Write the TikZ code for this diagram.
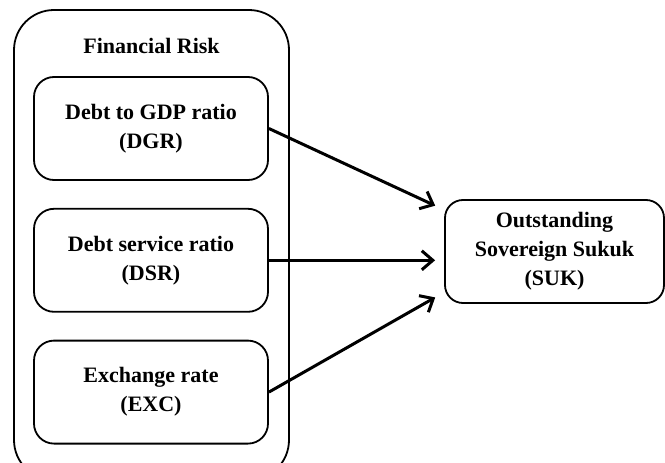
\documentclass[tikz,border=0pt]{standalone}
\usepackage{fontspec}
\setmainfont{Liberation Serif}
\usetikzlibrary{positioning,arrows.meta}

\tikzset{
  factor/.style={draw,line width=1.8pt,rounded corners=20pt,minimum width=234pt,minimum height=103pt,
    align=center,font=\bfseries\fontsize{22}{29}\selectfont},
  outerbox/.style={draw,line width=1.8pt,rounded corners=40pt,minimum width=275pt,minimum height=470pt},
  link/.style={line width=3pt,-{Straight Barb[length=11pt,width=19pt]},shorten >=1pt}
}

\begin{document}
\begin{tikzpicture}[x=1pt,y=-1pt,node distance=27pt]
\path[use as bounding box,clip] (0,0) rectangle (665,463);
\node[outerbox] (risk) at (151.5,245) {};
\node[font=\bfseries\fontsize{22}{26}\selectfont,below=26pt of risk.north] (title) {Financial Risk};
\node[factor] (dgr) at (151,128.5) {Debt to GDP ratio\\(DGR)};
\node[factor] (dsr) [below=of dgr] {Debt service ratio\\(DSR)};
\node[factor] (exc) [below=of dsr] {Exchange rate\\(EXC)};
\node[factor,minimum width=219pt,rounded corners=18pt] (suk) at (554.5,251.5) {Outstanding\\Sovereign Sukuk\\(SUK)};
\coordinate (in1) at ([xshift=-8pt,yshift=-7pt]suk.north west);
\coordinate (in3) at ([xshift=-8pt,yshift=7pt]suk.south west);
\draw[link] (dgr.east) -- (in1);
\draw[link] (dsr.east) -- (dsr.east -| in1);
\draw[link] (exc.east) -- (in3);
\end{tikzpicture}
\end{document}
